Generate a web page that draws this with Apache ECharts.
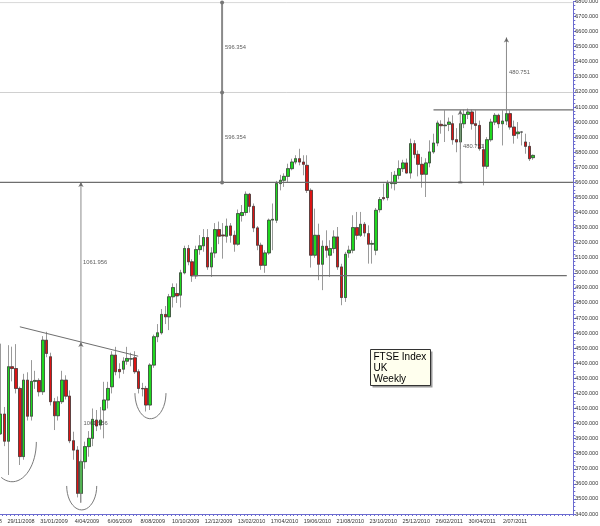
<!DOCTYPE html>
<html><head><meta charset="utf-8">
<script src="https://cdn.jsdelivr.net/npm/echarts@6/dist/echarts.min.js"></script>
<style>html,body{margin:0;padding:0;background:#fff}#c{width:600px;height:526px}</style>
</head><body><div id="c"></div>
<script>
// ---- data ----
const leadEmpty = 3; // empty weeks before first candle
const tickLabels = ['27/09/2008','29/11/2008','31/01/2009','4/04/2009','6/06/2009','8/08/2009','10/10/2009','12/12/2009','13/02/2010','17/04/2010','19/06/2010','21/08/2010','23/10/2010','25/12/2010','26/02/2011','30/04/2011','2/07/2011'];
const opens = [3932,4063,3883,4377,4365,4233,3781,4288,4049,4280,4286,4211,4553,4443,4145,4052,4145,4288,4182,3886,
3824,3537,3747,3847,3902,4023,3990,4090,4156,4244,4454,4359,4361,4414,4428,4436,4344,4233,4233,4123,
4388,4576,4602,4724,4708,4841,4863,4852,5000,5161,5073,4980,5154,5179,5234,5039,5132,5287,5251,5243,
5311,5249,5190,5380,5400,5521,5441,5298,5183,5050,5132,5350,5349,5592,5614,5640,5691,5735,5757,5735,
5713,5547,5117,5249,5057,5176,5117,5161,5238,5039,4836,5132,5150,5300,5249,5322,5260,5190,5150,5419,
5499,5499,5592,5592,5647,5691,5729,5662,5857,5786,5720,5654,5729,5802,5861,5985,5976,5985,5989,5883,
5868,5989,6051,6067,5989,5978,5817,5707,5883,6000,6045,5989,6007,6056,5967,5923,5934,5868,5839,5764];
const closes = [4063,3883,4377,4365,4233,3781,4288,4049,4280,4286,4211,4553,4465,4145,4052,4145,4288,4182,3886,3824,
3537,3747,3847,3902,4028,3984,4023,4156,4233,4454,4344,4344,4414,4432,4430,4344,4233,4230,4123,4388,
4576,4602,4724,4708,4841,4902,4847,5000,5161,5073,4980,5154,5179,5234,5039,5132,5287,5243,5245,5309,
5249,5190,5393,5400,5521,5441,5298,5183,5050,5132,5349,5355,5592,5614,5640,5691,5735,5757,5735,5720,
5547,5117,5249,5057,5176,5150,5161,5238,5039,4836,5123,5150,5300,5249,5322,5265,5190,5195,5415,5486,
5492,5592,5600,5647,5691,5729,5662,5857,5786,5720,5654,5729,5802,5861,5994,5976,5980,6000,5883,5868,
5989,6051,6067,5989,5978,5824,5707,5883,6000,6045,5989,6007,6056,5967,5912,5934,5934,5839,5757,5779];
const lows = [3925,3850,3659,4280,4200,3725,3760,4020,4020,4230,4180,4190,4440,4120,3957,4020,4130,4160,3870,3760,
3510,3475,3700,3780,3850,3950,3960,3902,4100,4200,4320,4300,4330,4390,4380,4330,4200,4180,4080,4090,
4370,4540,4590,4660,4620,4770,4800,4770,4990,5050,4940,4960,5120,5140,5020,4973,5100,5190,5094,5200,
5200,5140,5180,5340,5380,5400,5270,5150,5020,5000,5120,5150,5330,5547,5570,5603,5680,5720,5713,5647,
5530,5035,5100,4951,4885,5100,4973,5130,5020,4785,4807,5100,5130,5220,5238,5240,5061,5061,5117,5400,
5480,5480,5559,5547,5620,5669,5660,5625,5760,5640,5565,5503,5700,5790,5840,5923,5868,5940,5850,5800,
5820,5960,6020,5950,5845,5810,5580,5690,5870,5980,5960,5845,5980,5950,5857,5890,5845,5790,5742,5750];
const highs = [4530,4110,4520,4510,4527,4245,4330,4340,4421,4350,4300,4580,4609,4470,4170,4180,4350,4320,4220,3946,
3850,3760,3880,3950,4100,4090,4110,4277,4277,4480,4509,4400,4440,4509,4470,4480,4360,4270,4250,4400,
4590,4660,4760,4780,4860,4930,4930,5020,5180,5185,5090,5180,5250,5290,5290,5170,5330,5340,5330,5360,
5330,5280,5420,5450,5540,5530,5460,5310,5200,5150,5360,5460,5610,5650,5660,5724,5757,5780,5823,5780,
5780,5560,5426,5326,5215,5282,5216,5282,5304,5060,5139,5180,5382,5404,5404,5337,5315,5216,5430,5503,
5592,5614,5669,5676,5746,5750,5758,5890,5880,5812,5769,5760,5879,5923,6010,6012,6078,6030,6045,5960,
6010,6082,6090,6082,6078,6010,5855,5900,6022,6060,6056,6078,6100,6078,6010,6000,5934,5923,5868,5785];
const totalWeeks = 153;
// annotation levels
const supportLevel = 5600, measureStep = 596.354;
const topLevel = 6080.75, projStep = 480.751;
const lowerSupport = 4982;
const neckline = [[5.0, 4642], [35.9, 4447]];
const texts = [[58.56, 6494, '596.354'], [58.56, 5898, '596.354'], [21.5, 5070, '1061.956'], [21.6, 4001, '1061.956'], [132.7, 6329, '480.751'], [120.7, 5839, '480.751']];
// arcs: centre index, centre value, radius (index), radius (value), start/end angle (fraction of pi)
const arcs = [[3.0, 3878, 6.3, 264, 0.35, 1.0], [21.15, 3586, 3.92, 159, 0, 1], [39.1, 4202, 4.05, 170, 0, 1]];

// ---- build ----
const categories = [];
for (let k = 0; k < totalWeeks; k++) {
  const d = new Date(Date.UTC(2008, 8, 27 + 7 * k));
  categories.push(d.getUTCDate() + '/' + String(d.getUTCMonth() + 1).padStart(2, '0') + '/' + d.getUTCFullYear());
}
const ohlc = [], bodies = [];
for (let k = 0; k < leadEmpty; k++) { ohlc.push(['-','-','-','-']); bodies.push(['-','-','-','-']); }
for (let i = 0; i < opens.length; i++) {
  ohlc.push([opens[i], closes[i], lows[i], highs[i]]);
  bodies.push([opens[i], closes[i], Math.min(opens[i], closes[i]), Math.max(opens[i], closes[i])]);
}
function arcPts(a) {
  const pts = [];
  for (let s = 0; s <= 40; s++) {
    const t = Math.PI * (a[4] + (a[5] - a[4]) * s / 40);
    pts.push([a[0] - a[2] * Math.cos(t), a[1] - a[3] * Math.sin(t)]);
  }
  return pts;
}
const GRAY = '#8c8c8c';
const FONT = '"Liberation Sans", Arial, sans-serif';
const lineSeries = (data, color, width, extra) => Object.assign({
  type: 'line', xAxisIndex: 1, yAxisIndex: 0, data: data, symbol: 'none', silent: true,
  lineStyle: { color: color, width: width }, z: 5, animation: false
}, extra || {});

const xmin = -leadEmpty - 0.5, xmax = totalWeeks - leadEmpty - 0.5;
const series = [
  { type: 'candlestick', data: ohlc, barWidth: 3, z: 2,
    itemStyle: { color: '#1fd81f', color0: '#dc1414', borderColor: '#9a9a9a', borderColor0: '#9a9a9a', borderWidth: 1 } },
  { type: 'candlestick', data: bodies, barWidth: 3, z: 3,
    itemStyle: { color: '#1fd81f', color0: '#dc1414', borderColor: '#3a3a3a', borderColor0: '#3a3a3a', borderWidth: 0.7 } },
  lineSeries([[xmin, supportLevel + 2 * measureStep], [xmax, supportLevel + 2 * measureStep]], '#d8d8d8', 1),
  lineSeries([[xmin, supportLevel + measureStep], [xmax, supportLevel + measureStep]], '#d0d0d0', 1),
  lineSeries([[xmin, supportLevel], [xmax, supportLevel]], '#6e6e6e', 1.2),
  lineSeries([[113, topLevel], [xmax, topLevel]], '#6e6e6e', 1.2),
  lineSeries([[50, lowerSupport], [147.8, lowerSupport]], '#6e6e6e', 1.2),
  lineSeries(neckline, '#6e6e6e', 1),
  lineSeries([[57.8, supportLevel], [57.8, supportLevel + 2 * measureStep]], '#8a8a8a', 2,
    { symbol: 'circle', symbolSize: 4, showSymbol: true, itemStyle: { color: '#777' } }),
  lineSeries([[57.8, supportLevel + measureStep]], '#8a8a8a', 2,
    { symbol: 'circle', symbolSize: 4, showSymbol: true, itemStyle: { color: '#777' } }),
  lineSeries([[20.95, 3475], [20.95, supportLevel]], GRAY, 1),
  lineSeries([[120, supportLevel], [120, topLevel]], GRAY, 1),
  lineSeries([[132.05, topLevel], [132.05, topLevel + projStep]], GRAY, 1),
  ...arcs.map(a => lineSeries(arcPts(a), '#7a7a7a', 1, { smooth: false })),
  { type: 'scatter', xAxisIndex: 1, yAxisIndex: 0, symbol: 'arrow', symbolSize: [4, 5], silent: true, z: 6,
    itemStyle: { color: '#555' }, data: [[20.95, supportLevel + 3], [20.95, 4541], [132.05, topLevel + projStep], [120, topLevel]] },
  { type: 'scatter', xAxisIndex: 1, yAxisIndex: 0, symbol: 'rect', symbolSize: [4, 2], silent: true, z: 6,
    itemStyle: { color: '#555' }, data: [[120, supportLevel]] },
  { type: 'scatter', xAxisIndex: 1, yAxisIndex: 0, symbolSize: 0, silent: true, z: 7,
    data: texts.map(t => ({ value: [t[0], t[1]], name: t[2] })),
    label: { show: true, position: 'right', distance: 0, formatter: p => p.name, fontSize: 5.8, color: '#333', fontFamily: FONT } }
];

const chart = echarts.init(document.getElementById('c'), null, { renderer: 'canvas' });
chart.setOption({
  animation: false,
  backgroundColor: '#ffffff',
  grid: [
    { left: 0.7 - 3.83 * (leadEmpty + 0.5), right: 26.7, top: 1.5, bottom: 12, containLabel: false, outerBoundsMode: 'none' },
    { left: -11.93, right: 85, top: 1.5, bottom: 12, containLabel: false, outerBoundsMode: 'none' }
  ],
  xAxis: [
    { type: 'category', data: categories, boundaryGap: true,
      axisLine: { onZero: false, lineStyle: { color: '#6b6bd0' } },
      axisTick: { show: true, length: 2, interval: 0, lineStyle: { color: '#6b6bd0' } },
      axisLabel: { show: false },
      splitLine: { show: false } },
    { type: 'value', min: xmin, max: xmax, show: false },
    { gridIndex: 1, type: 'value', min: 0, max: tickLabels.length - 1, interval: 1,
      axisLine: { show: false }, axisTick: { show: false }, splitLine: { show: false },
      axisLabel: { show: true, showMinLabel: true, showMaxLabel: true, hideOverlap: false, formatter: v => tickLabels[v] || '', fontSize: 5.5, color: '#333', margin: 4, fontFamily: FONT } }
  ],
  yAxis: [{
    type: 'value', position: 'right', min: 3400, max: 6800, interval: 100,
    axisLine: { show: true, onZero: false, lineStyle: { color: '#6b6bd0' } },
    axisTick: { show: true, length: 3, lineStyle: { color: '#6b6bd0' } },
    minorTick: { show: true, splitNumber: 4, length: 2, lineStyle: { color: '#6b6bd0' } },
    axisLabel: { fontSize: 5.5, color: '#333', margin: 2, formatter: v => v.toFixed(3), fontFamily: FONT },
    splitLine: { show: false }
  }, { gridIndex: 1, type: 'value', show: false }],
  series: series,
  graphic: [{
    type: 'group', left: 370, top: 349, children: [
      { type: 'rect', shape: { x: 2, y: 2, width: 60, height: 36 }, style: { fill: '#9a9a9a' } },
      { type: 'rect', shape: { x: 0, y: 0, width: 60, height: 36 }, style: { fill: '#ffffee', stroke: '#333', lineWidth: 1 } },
      { type: 'text', style: { x: 3, y: 2, text: 'FTSE Index\nUK\nWeekly', fontSize: 10, lineHeight: 11, fill: '#000', fontFamily: 'Liberation Sans' } }
    ]
  }]
});
</script></body></html>
